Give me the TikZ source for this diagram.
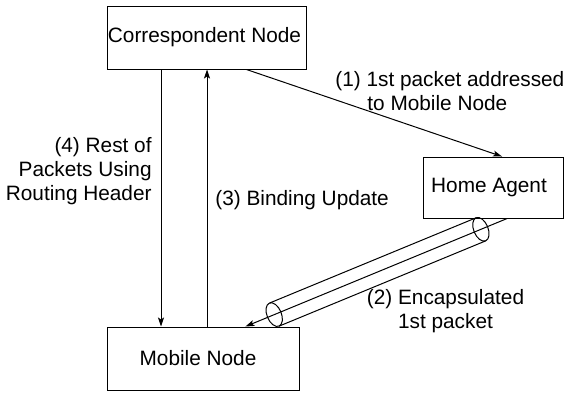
\documentclass[tikz,border=0pt]{standalone}
\usepackage{fontspec}
\setmainfont{Liberation Sans}
\usetikzlibrary{arrows.meta,calc}

\tikzset{
  box/.style={draw,line width=0.5pt,inner sep=0pt},
  lbl/.style={inner sep=0pt,font=\fontsize{10.4}{12}\selectfont},
  flow/.style={line width=0.5pt,-{Stealth[length=4.5pt,width=3pt,inset=1pt]}},
  tunnel/.style={line width=0.5pt},
}

\begin{document}
\begin{tikzpicture}[x=0.5pt,y=-0.5pt,font=\fontsize{10.4}{12.5}\selectfont]
\useasboundingbox (0,0) rectangle (565,392);

% The three nodes.
\node[box,minimum width=99.5pt,minimum height=31.5pt] (cn) at (206.5,37.5) {Correspondent Node\hspace*{2pt}};
\node[box,minimum width=70pt,minimum height=30.5pt] (ha) at (493,187.5) {Home Agent\hspace*{4pt}};
\node[box,minimum width=96pt,minimum height=31.5pt] (mn) at (203,358.5) {Mobile Node\hspace*{5pt}};

% Foot points of the connectors.
\coordinate (cnA) at ($(cn.south west)!0.70!(cn.south east)$);
\coordinate (haA) at ($(ha.north west)!0.564!(ha.north east)$);
\coordinate (haB) at ($(ha.south west)!0.60!(ha.south east)$);
\coordinate (mnB) at ($(mn.north west)!0.72!(mn.north east)$);
\coordinate (down) at (161,0);
\coordinate (up) at (207,0);

\draw[flow] (cnA) -- (haA);
\draw[flow] (down |- cn.south) -- (down |- mn.north);
\draw[flow] (up |- mn.north) -- (up |- cn.south);
\draw[flow] (haB) -- (mnB);

% The tunnel round the encapsulated packet.
\coordinate (t1) at ($(haB)!0.1!(mnB)$);
\coordinate (t2) at ($(haB)!0.89!(mnB)$);
\draw[tunnel] ($(t1)!6.25pt!90:(t2)$) -- ($(t2)!6.25pt!-90:(t1)$);
\draw[tunnel] ($(t1)!6.25pt!-90:(t2)$) -- ($(t2)!6.25pt!90:(t1)$);
\draw[tunnel,rotate around={22.5:(t1)}] (t1) ellipse [x radius=3.6pt,y radius=6.25pt];
\draw[tunnel,rotate around={22.5:(t2)}] (t2) ellipse [x radius=3.6pt,y radius=6.25pt];

% Labels.
\node[lbl,align=left,anchor=west] (l1) at (335,91) {(1) 1st packet addressed\\\hspace*{16pt}to Mobile Node};
\node[lbl,align=right,anchor=east] (l4) at (152,171) {(4) Rest of\\Packets Using\\Routing Header};
\node[lbl,anchor=base west] (l3) at (215,205) {(3) Binding Update};
\node[lbl,align=center] (l2) at (445.5,311) {(2) Encapsulated\\1st packet};

\end{tikzpicture}
\end{document}
